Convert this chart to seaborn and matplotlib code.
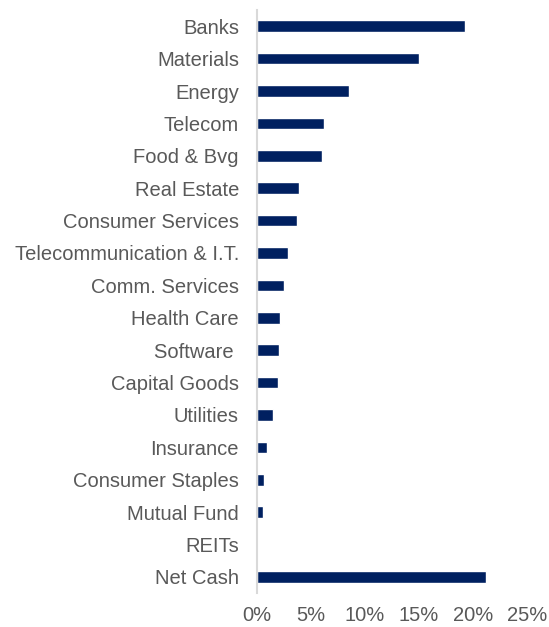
import pandas as pd
import seaborn as sns
import matplotlib.pyplot as plt
from matplotlib.ticker import PercentFormatter

sectors = [
    "Banks", "Materials", "Energy", "Telecom", "Food & Bvg", "Real Estate",
    "Consumer Services", "Telecommunication & I.T.", "Comm. Services",
    "Health Care", "Software ", "Capital Goods", "Utilities", "Insurance",
    "Consumer Staples", "Mutual Fund", "REITs", "Net Cash",
]
weights = [19.3, 15.0, 8.5, 6.2, 6.05, 3.85, 3.7, 2.85, 2.5, 2.15, 2.05,
           1.95, 1.5, 0.9, 0.65, 0.55, 0.0, 21.2]

df = pd.DataFrame({"sector": sectors, "weight": weights})

sns.set_style("white")
plt.rcParams['font.family'] = ['Liberation Sans', 'DejaVu Sans']
text_grey = '#595959'

fig = plt.figure(figsize=(5.49, 6.27), dpi=100)
ax = fig.add_axes([0.468, 0.054, 0.492, 0.930])

sns.barplot(
    data=df, x="weight", y="sector", orient="h",
    color="#002060", saturation=1, width=0.36, ax=ax,
)

ax.set_xlim(0, 25)
ax.set_xticks([0, 5, 10, 15, 20, 25])
ax.xaxis.set_major_formatter(PercentFormatter(decimals=0))
ax.set_xlabel("")
ax.set_ylabel("")

for side in ["top", "right", "bottom"]:
    ax.spines[side].set_visible(False)
ax.spines["left"].set_color("#d9d9d9")
ax.spines["left"].set_linewidth(1.5)

ax.tick_params(axis="y", length=0, pad=13, labelsize=14.5, labelcolor=text_grey)
ax.tick_params(axis="x", length=0, pad=9, labelsize=14.5, labelcolor=text_grey)

fig.savefig("out.png", dpi=100)
